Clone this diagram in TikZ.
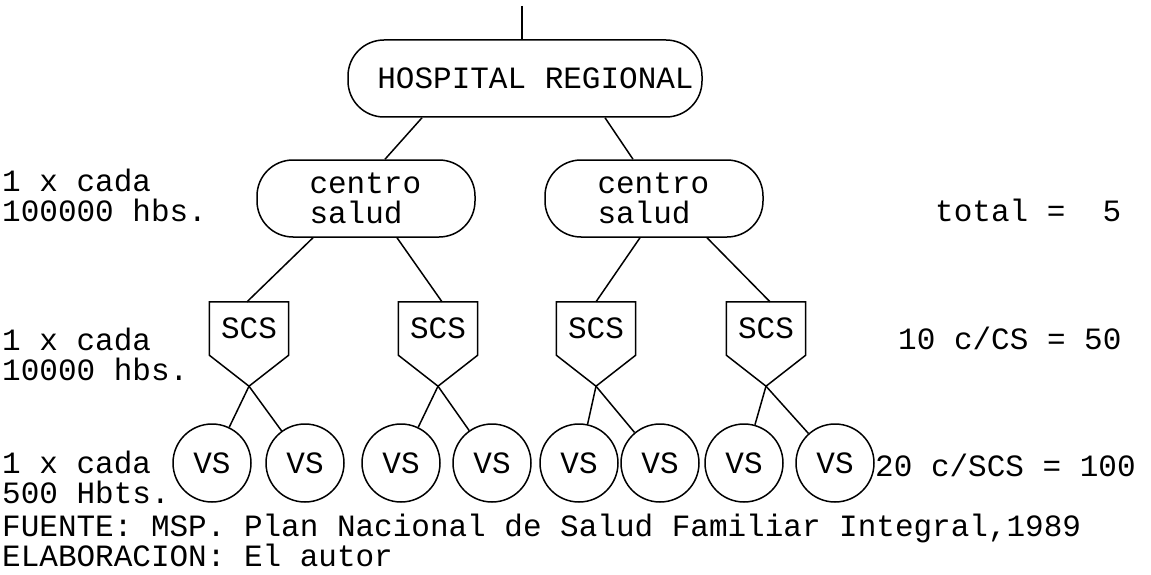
\documentclass[tikz,border=0pt]{standalone}
\usepackage{fontspec}
\setmainfont{Liberation Mono}
\usetikzlibrary{calc}

\tikzset{
  roundbox/.style={draw, line width=1.5pt, rounded corners=36pt, minimum height=77pt},
  scsbox/.style={minimum width=79pt, minimum height=53pt, inner sep=0pt},
  vscircle/.style={draw, circle, line width=1.5pt, minimum size=78pt, inner sep=0pt},
  plain/.style={inner sep=0pt, anchor=west, align=left},
  link/.style={line width=1.5pt}
}

\begin{document}
\begin{tikzpicture}[x=1pt,y=-1pt,font=\fontsize{31}{30}\selectfont]
  % Constants
  \pgfmathsetmacro\ycs{198.5}
  \pgfmathsetmacro\yscs{328.5}
  \pgfmathsetmacro\yvs{463}
  % Boundary
  \path[use as bounding box] (0,0) rectangle (1151,575);
  % Hospital
  \coordinate (top) at (522,6);
  \node[roundbox, minimum width=354pt, inner xsep=0pt] (hosp) at (525,78.5) {\hspace*{21pt}HOSPITAL REGIONAL};
  % Centros de salud
  \node[roundbox, text width=113pt, align=left, inner xsep=52.5pt] (cs1) at (366,\ycs) {centro\\salud};
  \node[roundbox, text width=113pt, align=left, inner xsep=52.5pt] (cs2) at (654,\ycs) {centro\\salud};
  % Subcentros
  \foreach \n/\x in {1/249,2/438,3/596,4/766} {
    \node[scsbox] (s\n) at (\x,\yscs) {SCS};
    \coordinate (t\n) at ($(s\n.south)+(0,31)$);
    \draw[link] (s\n.south west) -- (s\n.north west) -- (s\n.north east) -- (s\n.south east) -- (t\n) -- cycle;
  }
  % Puestos
  \foreach \n/\x in {1/212,2/305,3/401,4/492,5/579,6/660,7/744,8/835}
    \node[vscircle] (v\n) at (\x,\yvs) {VS};
  % Connectors
  \draw[link] (top) -- (top |- hosp.north);
  \draw[link] ($(hosp.south)+(-103,0)$) -- ($(cs1.north)+(19,0)$);
  \draw[link] ($(hosp.south)+(80,0)$) -- ($(cs2.north)+(-21,0)$);
  \draw[link] ($(cs1.south)+(-53,0)$) -- ($(s1.north)+(-2,0)$);
  \draw[link] ($(cs1.south)+(31,0)$) -- ($(s2.north)+(4,0)$);
  \draw[link] ($(cs2.south)+(-14,0)$) -- (s3.north);
  \draw[link] ($(cs2.south)+(53,0)$) -- ($(s4.north)+(4,0)$);
  \foreach \s/\a/\b in {1/1/2,2/3/4,3/5/6,4/7/8} {
    \draw[link] (t\s) -- (v\a);
    \draw[link] (t\s) -- (v\b);
  }
  % Levels
  \node[plain] (lvlcs) at (2,195) {1 x cada\\100000 hbs.};
  \node[plain] (lvlscs) at (2,354) {1 x cada\\10000 hbs.};
  \node[plain] (lvlvs) at (2,477) {1 x cada\\500 Hbts.};
  \node[plain] (totcs) at (935,210) {total =\ \ 5};
  \node[plain] (totscs) at (898,338) {10 c/CS = 50};
  \node[plain] (totvs) at (875,465) {20 c/SCS = 100};
  % Source
  \node[plain] (src) at (2,540) {FUENTE: MSP. Plan Nacional de Salud Familiar Integral,1989\\ELABORACION: El autor};
\end{tikzpicture}
\end{document}
